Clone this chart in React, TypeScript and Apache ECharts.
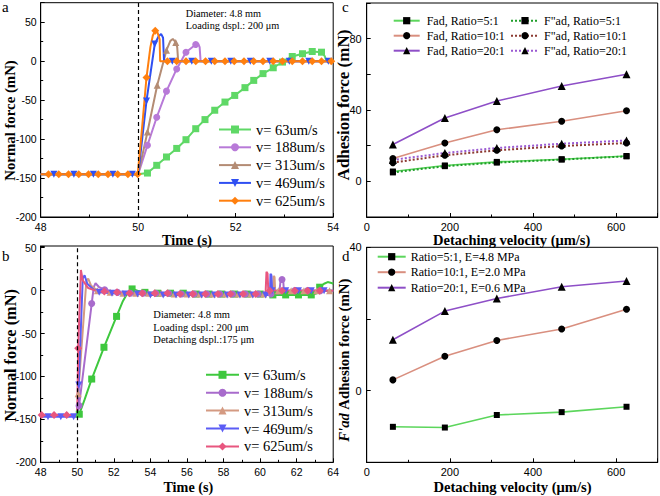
import React, { useEffect, useRef } from 'react';
import * as echarts from 'echarts';

const SANS = "'Liberation Sans', Arial, sans-serif";
const SERIF = "'Liberation Serif', 'Times New Roman', serif";

// ---------- Panel a : [time s, force mN, marker flag] ----------
const aNames = ['v= 63um/s', 'v= 188um/s', 'v= 313um/s', 'v= 469um/s', 'v= 625um/s'];
const aColors = ['#5fd866', '#b87ad8', '#b48c74', '#2f4ff2', '#ff7f0e'];
const a63 = [
  [48, -145, 0], [49.99, -145, 0], [50.19, -143.6, 1], [50.38, -133.7, 1], [50.58, -123, 1], [50.79, -112, 1],
  [50.98, -100.8, 1], [51.18, -86.7, 1], [51.37, -75, 1], [51.57, -63, 1], [51.78, -52.5, 1], [51.98, -44, 1],
  [52.19, -34, 1], [52.37, -24.7, 1], [52.56, -16, 1], [52.77, -8.5, 1], [52.96, -1.2, 1], [53.16, 6, 1],
  [53.37, 9.5, 1], [53.57, 12.4, 1], [53.76, 11.5, 1], [53.83, 6, 0], [53.86, 0, 0], [54, 0, 0],
];
const a188 = [
  [48, -145, 0], [50.0, -145, 0], [50.19, -108, 1], [50.38, -72, 1], [50.58, -38.5, 1], [50.79, -10, 1],
  [50.98, 11.5, 1], [51.18, 21.4, 1], [51.23, 22.5, 0], [51.26, 18, 0], [51.28, 0, 0], [54, 0, 0],
];
const a313 = [
  [48, -145, 0], [50.0, -145, 0], [50.19, -91, 1], [50.39, -31, 1], [50.58, 14, 1], [50.66, 26, 0],
  [50.71, 28.5, 0], [50.77, 24, 1], [50.8, 18, 0], [50.82, 0, 0], [54, 0, 0],
];
const a469 = [
  [48, -145, 0], [48.27, -145, 1], [48.68, -145, 1], [49.08, -145, 1], [49.48, -145, 1], [49.88, -145, 1],
  [50.0, -145, 0], [50.17, -51, 1], [50.34, 22, 1], [50.42, 32, 0], [50.47, 35, 0], [50.51, 30, 0],
  [50.53, 0, 0], [50.7, 0, 1], [51.1, 0, 1], [51.5, 0, 1], [51.9, 0, 1], [52.3, 0, 1], [52.7, 0, 1],
  [53.1, 0, 1], [53.5, 0, 1], [53.9, 0, 1], [54, 0, 0],
];
const a625 = [
  [48, -145, 0], [48.16, -145, 1], [48.37, -145, 1], [48.57, -145, 1], [48.78, -145, 1], [48.98, -145, 1],
  [49.18, -145, 1], [49.38, -145, 1], [49.58, -145, 1], [49.79, -145, 1], [49.99, -145, 1], [50.08, -85, 0],
  [50.17, -21, 1], [50.25, 18, 0], [50.3, 33, 0], [50.35, 39, 1], [50.4, 36, 0], [50.44, 28, 0], [50.45, 0, 0],
  [50.6, 0, 1], [50.79, 0, 1], [50.98, 0, 1], [51.18, 0, 1], [51.38, 0, 1], [51.57, 0, 1], [51.78, 0, 1],
  [51.97, 0, 1], [52.17, 0, 1], [52.37, 0, 1], [52.56, 0, 1], [52.77, 0, 1], [52.96, 0, 1], [53.16, 0, 1],
  [53.37, 0, 1], [53.57, 0, 1], [53.76, 0, 1], [53.96, 0, 1], [54, 0, 0],
];

// ---------- Panel b ----------
const bNames = ['v= 63um/s', 'v= 188um/s', 'v= 313um/s', 'v= 469um/s', 'v= 625um/s'];
const bColors = ['#3ec83e', '#a86bcc', '#d49a82', '#5b5cf5', '#e8567f'];
const b63 = [
  [48, -146, 0], [50.05, -146, 0], [50.11, -144, 1], [50.4, -127, 0], [50.79, -103, 1], [51.46, -66, 1],
  [52.15, -30, 1], [52.5, -12, 0], [52.8, -1, 0], [53.0, 2, 1], [53.3, 0, 0], [53.7, -2, 1], [54.4, -3, 1],
  [55.1, -3, 1], [55.8, -3, 1], [56.5, -4, 1], [57.2, -4, 1], [57.9, -4, 1], [58.6, -4, 1], [59.3, -4, 1],
  [60.0, -4, 1], [60.7, -5, 1], [61.4, -5, 1], [62.1, -5, 1], [62.8, -5, 1], [63.1, -3, 0], [63.26, 4, 1],
  [63.5, 8, 0], [63.7, 10, 0], [63.9, 9, 0], [64, 8, 0],
];
const b188 = [
  [48, -146, 0], [50.0, -146, 0], [50.1, -134, 1], [50.79, -15, 1], [50.9, 4, 0], [51.0, 8.6, 0], [51.2, 4, 0],
  [51.5, 1, 1], [52.2, -2, 1], [52.9, -3, 1], [53.6, -3, 1], [54.3, -3, 1], [55.0, -3, 1], [55.7, -4, 1],
  [56.4, -4, 1], [57.1, -4, 1], [57.8, -4, 1], [58.5, -4, 1], [59.2, -4, 1], [59.9, -4, 1], [60.6, -4, 1],
  [61.05, -3, 0], [61.12, 12, 0], [61.2, 13, 1], [61.27, 11, 0], [61.3, 0, 0], [61.9, 0, 1], [62.6, 0, 1],
  [63.3, 0, 1], [64, 0, 0],
];
const b313 = [
  [48, -145, 0], [50.0, -145, 0], [50.05, -120, 1], [50.5, 12, 0], [50.6, 14, 0], [50.75, 6, 0], [51.1, 0, 1],
  [51.8, -2, 1], [52.5, -3, 1], [53.2, -3, 1], [53.9, -3, 1], [54.6, -3, 1], [55.3, -4, 1], [56.0, -4, 1],
  [56.7, -4, 1], [57.4, -4, 1], [58.1, -4, 1], [58.8, -4, 1], [59.5, -4, 1], [60.2, -4, 1], [60.7, -4, 0],
  [60.74, 17, 0], [60.79, 16, 0], [60.83, -2, 0], [61.0, 0, 1], [61.7, 0, 1], [62.4, 0, 1], [63.1, 0, 1],
  [63.8, 0, 1], [64, 0, 0],
];
const b469 = [
  [48, -147, 0], [48.4, -147, 1], [49.1, -147, 1], [49.8, -147, 1], [50.0, -147, 0], [50.08, -110, 1],
  [50.3, 14, 0], [50.4, 18, 0], [50.55, 8, 0], [50.9, 1, 0], [51.2, -2, 1], [51.9, -3, 1], [52.6, -4, 1],
  [53.3, -4, 1], [54.0, -5, 1], [54.7, -5, 1], [55.4, -5, 1], [56.1, -5, 1], [56.8, -5, 1], [57.5, -5, 1],
  [58.2, -5, 1], [58.9, -5, 1], [59.6, -5, 1], [60.3, -5, 1], [60.54, -5, 0], [60.57, 19.5, 0], [60.62, 18, 0],
  [60.66, 0, 1], [61.4, 0, 1], [62.1, 0, 1], [62.8, 0, 1], [63.5, 0, 1], [64, 0, 0],
];
const b625 = [
  [48, -145, 0], [48.05, -145, 1], [48.73, -145, 1], [49.42, -145, 1], [50.0, -145, 0], [50.05, -67, 1],
  [50.2, 24, 0], [50.3, 12, 0], [50.6, 3, 0], [51.0, 0, 0], [51.48, -1, 1], [52.17, -2, 1], [52.85, -3, 1],
  [53.55, -3, 1], [54.24, -3, 1], [54.93, -3, 1], [55.62, -4, 1], [56.31, -4, 1], [57.0, -4, 1], [57.69, -4, 1],
  [58.38, -4, 1], [59.07, -4, 1], [59.76, -4, 1], [60.3, -4, 0], [60.35, 22, 0], [60.41, 20, 0], [60.45, 0, 0],
  [60.53, 0, 1], [61.2, 0, 1], [61.9, 0, 1], [62.6, 0, 1], [63.26, 0, 1], [64, 0, 0],
];

// ---------- Panel c ----------
const cVel = [63, 188, 313, 469, 625];
const cNames = ['Fad, Ratio=5:1', 'Fad, Ratio=10:1', 'Fad, Ratio=20:1', 'F"ad, Ratio=5:1', 'F"ad, Ratio=10:1', 'F"ad, Ratio=20:1'];
const cFad5 = [5.5, 8.9, 10.9, 12.4, 14.2];
const cFad10 = [12.8, 21.5, 28.9, 33.7, 39.6];
const cFad20 = [20.7, 35.5, 45, 53.5, 60];
const cF2ad5 = [5, 8.5, 10.5, 12.2, 14];
const cF2ad10 = [10.5, 14.6, 17.4, 19.8, 21.5];
const cF2ad20 = [12, 15.9, 18.7, 21.1, 22.9];

// ---------- Panel d ----------
const dVel = [63, 188, 313, 469, 625];
const dNames = ['Ratio=5:1, E=4.8 MPa', 'Ratio=10:1, E=2.0 MPa', 'Ratio=20:1, E=0.6 MPa'];
const d5 = [-10.1, -10.3, -6.8, -6.0, -4.5];
const d10 = [3.0, 9.6, 14.0, 17.2, 22.7];
const d20 = [14.2, 22.2, 25.7, 29.0, 30.6];

const GREEN = '#5cd65c';
const SALMON = '#d98f7f';
const PURPLE = '#8e4fc7';

const SYM = ['rect', 'circle', 'triangle', 'path://M0,0L10,0L5,9Z', 'diamond'];
const SYMSZ = [7, 7, 7, 7, 8];

const toData = (pts: number[][], size: number) =>
  pts.map(([t, v, m]) => ({ value: [t, v], symbolSize: m ? size : 0 }));

const axisCommon = (fs: number) => ({
  axisLine: { show: true, onZero: false, lineStyle: { color: '#000', width: 1 } },
  axisTick: { show: true, inside: true, length: 4, lineStyle: { color: '#000' } },
  splitLine: { show: false },
  axisLabel: { color: '#000', fontFamily: SANS, fontSize: fs, margin: 4 },
});

const only = (step: number) => (v: number) => (Math.abs(v % step) < 1e-9 ? String(v) : '');

export default function App() {
  const ref = useRef<HTMLDivElement>(null);
  useEffect(() => {
    if (!ref.current) return;
    const chart = echarts.init(ref.current, undefined, { renderer: 'svg' });

    const grids = [
      { left: 40.7, top: 2.7, width: 292.5, height: 214.3 },
      { left: 40.7, top: 246, width: 292.5, height: 216.3 },
      { left: 366.7, top: 3, width: 291, height: 214 },
      { left: 366.7, top: 247.3, width: 291, height: 215 },
    ].map((g) => ({ ...g, show: true, borderColor: '#000', borderWidth: 1, backgroundColor: 'transparent', containLabel: false, outerBoundsMode: 'none' }));

    const mt = { show: true, splitNumber: 2, length: 2.5, lineStyle: { color: '#000' } };
    const xAxis = [
      { gridIndex: 0, type: 'value', min: 48, max: 54, interval: 2, ...axisCommon(10.5), minorTick: mt },
      { gridIndex: 1, type: 'value', min: 48, max: 64, interval: 2, ...axisCommon(10.5), minorTick: mt },
      { gridIndex: 2, type: 'value', min: 0, max: 700, interval: 200, ...axisCommon(11), axisLabel: { ...axisCommon(11).axisLabel, formatter: only(200) }, minorTick: mt },
      { gridIndex: 3, type: 'value', min: 0, max: 700, interval: 200, ...axisCommon(11), axisLabel: { ...axisCommon(11).axisLabel, formatter: only(200) }, minorTick: mt },
    ];
    const yAxis = [
      { gridIndex: 0, type: 'value', min: -200, max: 75, interval: 50, ...axisCommon(10.5), axisLabel: { ...axisCommon(10.5).axisLabel, formatter: only(50) }, minorTick: mt },
      { gridIndex: 1, type: 'value', min: -200, max: 52, interval: 50, ...axisCommon(10.5), axisLabel: { ...axisCommon(10.5).axisLabel, formatter: only(50) }, minorTick: mt },
      { gridIndex: 2, type: 'value', min: -20, max: 100, interval: 20, ...axisCommon(11), axisLabel: { ...axisCommon(11).axisLabel, margin: 5, formatter: only(40) } },
      { gridIndex: 3, type: 'value', min: -20, max: 40, interval: 20, ...axisCommon(11), axisLabel: { ...axisCommon(11).axisLabel, margin: 5, formatter: only(40) } },
    ];

    const dash = {
      silent: true,
      symbol: ['none', 'none'],
      label: { show: false },
      lineStyle: { color: '#000', type: [4, 3], width: 1.2 },
      data: [{ xAxis: 50 }],
    };

    const series: any[] = [];
    [a63, a188, a313, a469, a625].forEach((pts, i) => {
      series.push({
        type: 'line', name: aNames[i], xAxisIndex: 0, yAxisIndex: 0,
        data: toData(pts, SYMSZ[i]), symbol: SYM[i], symbolSize: SYMSZ[i], showAllSymbol: true,
        lineStyle: { color: aColors[i], width: 2 }, itemStyle: { color: aColors[i] },
        ...(i === 0 ? { markLine: dash } : {}),
      });
    });
    [b63, b188, b313, b469, b625].forEach((pts, i) => {
      series.push({
        type: 'line', name: 'b:' + bNames[i], xAxisIndex: 1, yAxisIndex: 1,
        data: toData(pts, SYMSZ[i]), symbol: SYM[i], symbolSize: SYMSZ[i], showAllSymbol: true,
        lineStyle: { color: bColors[i], width: 2 }, itemStyle: { color: bColors[i] },
        ...(i === 0 ? { markLine: dash } : {}),
      });
    });
    const cVals = [cFad5, cFad10, cFad20, cF2ad5, cF2ad10, cF2ad20];
    const cCols = [GREEN, SALMON, PURPLE, '#1f9e2a', '#8c3b32', '#9a5ad2'];
    cVals.forEach((vals, i) => {
      const dotted = i >= 3;
      series.push({
        type: 'line', name: cNames[i], xAxisIndex: 2, yAxisIndex: 2,
        data: vals.map((v, k) => [cVel[k], v]),
        symbol: SYM[i % 3], symbolSize: [6, 7, 8][i % 3],
        lineStyle: { color: cCols[i], width: dotted ? 2 : 1.6, type: dotted ? 'dotted' : 'solid' },
        itemStyle: { color: '#000' },
      });
    });
    [d5, d10, d20].forEach((vals, i) => {
      series.push({
        type: 'line', name: dNames[i], xAxisIndex: 3, yAxisIndex: 3,
        data: vals.map((v, k) => [dVel[k], v]),
        symbol: SYM[i], symbolSize: [6, 7, 8][i],
        lineStyle: { color: [GREEN, SALMON, PURPLE][i], width: 1.6 },
        itemStyle: { color: '#000' },
      });
    });

    const legBase = { orient: 'vertical', selectedMode: false, padding: 0 };
    const legend = [
      { ...legBase, data: aNames, left: 218, top: 122, itemWidth: 32, itemHeight: 10, itemGap: 2.8,
        textStyle: { fontFamily: SERIF, fontSize: 14.5, lineHeight: 15, color: '#000' } },
      { ...legBase, data: bNames.map((n) => 'b:' + n), left: 205, top: 367.3, itemWidth: 33, itemHeight: 10, itemGap: 2.9,
        formatter: (n: string) => n.replace(/^b:/, ''),
        textStyle: { fontFamily: SERIF, fontSize: 14.5, lineHeight: 15, color: '#000' } },
      { ...legBase, data: cNames.slice(0, 3), left: 392.7, top: 13.7, itemWidth: 26, itemHeight: 9, itemGap: 1,
        textStyle: { fontFamily: SERIF, fontSize: 12, lineHeight: 14, color: '#000', padding: [0, 0, 0, 2] } },
      { ...legBase, data: cNames.slice(3), left: 510, top: 13.7, itemWidth: 28, itemHeight: 9, itemGap: 1,
        textStyle: { fontFamily: SERIF, fontSize: 12, lineHeight: 14, color: '#000' } },
      { ...legBase, data: dNames, left: 376.7, top: 249.7, itemWidth: 28, itemHeight: 9, itemGap: 1.5,
        textStyle: { fontFamily: SERIF, fontSize: 12, lineHeight: 14, color: '#000' } },
    ];

    const txt = (text: string, x: number, y: number, font: string, align = 'left', rot = 0, extra: any = {}) => ({
      type: 'text', x, y, rotation: rot, silent: true,
      style: { text, font, fill: '#000', textAlign: align, align, textVerticalAlign: 'middle', verticalAlign: 'middle', ...extra },
    });
    const ytBold = (s: number) => `bold ${s}px ${SERIF}`;

    const graphic = [
      txt('a', 2, 7, `15px ${SERIF}`),
      txt('b', 2, 256, `15px ${SERIF}`),
      txt('c', 342, 7, `15px ${SERIF}`),
      txt('d', 342, 256, `15px ${SERIF}`),
      txt('Diameter: 4.8 mm', 185.7, 13.3, `10.3px ${SERIF}`),
      txt('Loading dspl.: 200 \u03bcm', 185.7, 25, `10.3px ${SERIF}`),
      txt('Diameter: 4.8 mm', 153.3, 314, `10.5px ${SERIF}`),
      txt('Loading dspl.: 200 \u03bcm', 153.3, 327, `10.5px ${SERIF}`),
      txt('Detaching dspl.:175 \u03bcm', 153.3, 339.5, `10.5px ${SERIF}`),
      txt('Time (s)', 187, 239.5, ytBold(14.2), 'center'),
      txt('Time (s)', 188.3, 486.7, ytBold(14.2), 'center'),
      txt('Detaching velocity (\u03bcm/s)', 511.7, 240, ytBold(14.5), 'center'),
      txt('Detaching velocity (\u03bcm/s)', 512.5, 486.7, ytBold(14.6), 'center'),
      txt('Normal force (mN)', 10, 120.5, ytBold(14.8), 'center', Math.PI / 2),
      txt('Normal force (mN)', 10, 355.5, ytBold(16.3), 'center', Math.PI / 2),
      txt('Adhesion force (mN)', 343.5, 105, ytBold(17), 'center', Math.PI / 2),
      txt("{i|F'ad} Adhesion force (mN)", 343.5, 360, ytBold(14.8), 'center', Math.PI / 2, {
        rich: { i: { font: `italic bold 14.8px ${SERIF}`, fill: '#000' } },
      }),
    ];

    chart.setOption({
      animation: false,
      backgroundColor: '#fff',
      grid: grids,
      xAxis,
      yAxis,
      legend,
      series,
      graphic,
    } as any);
    return () => chart.dispose();
  }, []);
  return (
    <div
      ref={ref}
      style={{ position: 'fixed', left: 0, top: 0, width: 660, height: 496, background: '#fff' }}
    />
  );
}
